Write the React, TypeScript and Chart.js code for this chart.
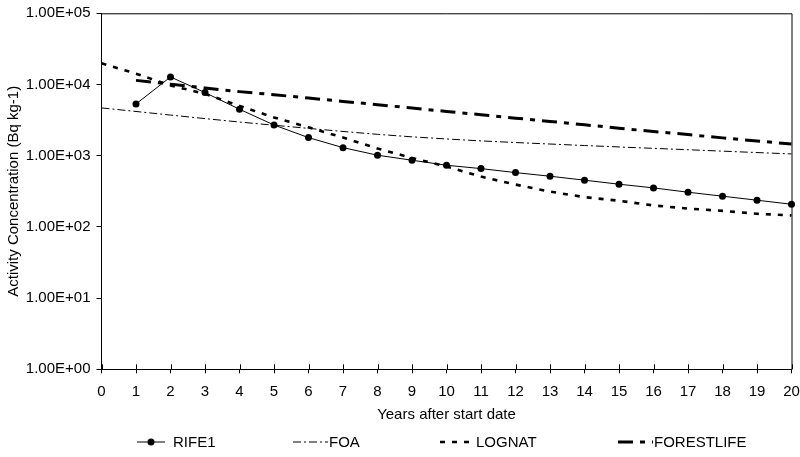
import React, { useEffect, useRef } from "react";
import { Chart, registerables } from "chart.js";

Chart.register(...registerables);

const years = [0, 1, 2, 3, 4, 5, 6, 7, 8, 9, 10, 11, 12, 13, 14, 15, 16, 17, 18, 19, 20];
const rife1 = [null, 5330, 12770, 7690, 4490, 2700, 1795, 1298, 1016, 864, 735, 659, 579, 515, 453, 398, 353, 307, 270, 237, 208];
const foa = [4690, 4180, 3720, 3320, 2970, 2680, 2420, 2190, 1995, 1840, 1718, 1614, 1531, 1459, 1390, 1327, 1268, 1213, 1159, 1107, 1059];
const lognat = [19900, 14200, 9700, 7400, 5000, 3450, 2500, 1800, 1260, 930, 705, 509, 393, 313, 262, 233, 200, 181, 168, 153, 145];
const forestlife = [null, 11430, 10120, 8920, 7940, 7190, 6460, 5790, 5200, 4670, 4190, 3760, 3370, 3030, 2720, 2430, 2190, 1980, 1780, 1610, 1460];
const seriesNames = ["RIFE1", "FOA", "LOGNAT", "FORESTLIFE"];
const yTicks = [1, 10, 100, 1000, 10000, 100000];
const yTickLabels = ["1.00E+00", "1.00E+01", "1.00E+02", "1.00E+03", "1.00E+04", "1.00E+05"];
const xTitle = "Years after start date";
const yTitle = "Activity Concentration (Bq kg-1)";

const FONT = "'Liberation Sans', Arial, sans-serif";
const legendX = [137, 293, 440, 618];

const framePlugin = {
  id: "frame",
  afterDraw(chart: any) {
    const { ctx, chartArea } = chart;
    const { left, right, top, bottom } = chartArea;
    ctx.save();
    ctx.strokeStyle = "#000";
    ctx.lineWidth = 1;
    ctx.setLineDash([]);
    ctx.beginPath();
    ctx.moveTo(left, top + 0.5);
    ctx.lineTo(right + 0.5, top + 0.5);
    ctx.lineTo(right + 0.5, bottom);
    ctx.stroke();
    const xs = chart.scales.x;
    ctx.beginPath();
    for (let i = 0; i < years.length; i++) {
      const px = Math.round(xs.getPixelForTick(i)) + 0.5;
      ctx.moveTo(px, bottom);
      ctx.lineTo(px, bottom - 5);
    }
    ctx.stroke();
    ctx.restore();
  },
};

const legendPlugin = {
  id: "customLegend",
  afterDraw(chart: any) {
    const { ctx } = chart;
    const y = 442;
    ctx.save();
    ctx.font = `15px ${FONT}`;
    ctx.textBaseline = "middle";
    ctx.fillStyle = "#000";
    chart.data.datasets.forEach((ds: any, i: number) => {
      const x0 = legendX[i];
      const len = i === 0 ? 28 : 35;
      ctx.strokeStyle = "#000";
      ctx.lineWidth = ds.borderWidth;
      ctx.setLineDash(ds.borderDash || []);
      ctx.beginPath();
      ctx.moveTo(x0, y);
      ctx.lineTo(x0 + len, y);
      ctx.stroke();
      ctx.setLineDash([]);
      if (ds.pointRadius > 0) {
        ctx.beginPath();
        ctx.arc(x0 + len / 2, y, ds.pointRadius, 0, Math.PI * 2);
        ctx.fill();
      }
      ctx.fillText(ds.label, x0 + 36, y + 1);
    });
    ctx.restore();
  },
};

export default function App() {
  const ref = useRef<HTMLCanvasElement>(null);
  useEffect(() => {
    if (!ref.current) return;
    Chart.defaults.font.family = FONT;
    Chart.defaults.font.size = 15;
    Chart.defaults.color = "#000";
    const chart = new Chart(ref.current, {
      type: "line",
      data: {
        labels: years.map(String),
        datasets: [
          {
            label: seriesNames[0],
            data: rife1,
            borderColor: "#000",
            backgroundColor: "#000",
            borderWidth: 1,
            pointRadius: 3.5,
            pointBackgroundColor: "#000",
            pointBorderWidth: 0,
            borderDash: [],
          },
          {
            label: seriesNames[1],
            data: foa,
            borderColor: "#000",
            borderWidth: 1,
            pointRadius: 0,
            borderDash: [8, 3, 2, 3],
          },
          {
            label: seriesNames[2],
            data: lognat,
            borderColor: "#000",
            borderWidth: 2.6,
            pointRadius: 0,
            borderDash: [5, 7],
          },
          {
            label: seriesNames[3],
            data: forestlife,
            borderColor: "#000",
            borderWidth: 3,
            pointRadius: 0,
            borderDash: [15, 7, 5, 7],
          },
        ] as any,
      },
      options: {
        animation: false,
        responsive: true,
        maintainAspectRatio: false,
        layout: { padding: { top: 13.3, right: 0, bottom: 30, left: 0 } },
        plugins: {
          legend: { display: false },
          tooltip: { enabled: false },
        },
        scales: {
          x: {
            type: "category",
            offset: false,
            grid: { display: true, drawOnChartArea: false, tickLength: 4, color: "#000" },
            border: { display: true, color: "#000", width: 1 },
            ticks: { padding: 10, maxRotation: 0, autoSkip: false, font: { size: 15, family: FONT } },
            title: { display: true, text: xTitle, padding: { top: 4, bottom: 3 }, font: { size: 15, family: FONT } },
            afterFit: (s: any) => {
              s.height = 57.7;
              s.paddingRight = 8.5;
              s.paddingLeft = 0;
            },
          },
          y: {
            type: "logarithmic",
            min: 1,
            max: 100000,
            grid: { display: true, drawOnChartArea: false, tickLength: 5, color: "#000" },
            border: { display: true, color: "#000", width: 1 },
            afterBuildTicks: (s: any) => {
              s.ticks = yTicks.map((v) => ({ value: v }));
            },
            ticks: {
              padding: 6,
              font: { size: 15, family: FONT },
              callback: (_v: any, i: number) => yTickLabels[i],
            },
            title: { display: true, text: yTitle, padding: { top: 5, bottom: 4 }, font: { size: 15, family: FONT } },
            afterFit: (s: any) => {
              s.width = 101.5;
              s.paddingTop = 0;
              s.paddingBottom = 0;
            },
          },
        },
      },
      plugins: [framePlugin, legendPlugin],
    });
    return () => chart.destroy();
  }, []);
  return (
    <div style={{ position: "absolute", left: 0, top: 0, width: 800, height: 457, background: "#fff" }}>
      <canvas ref={ref} />
    </div>
  );
}
